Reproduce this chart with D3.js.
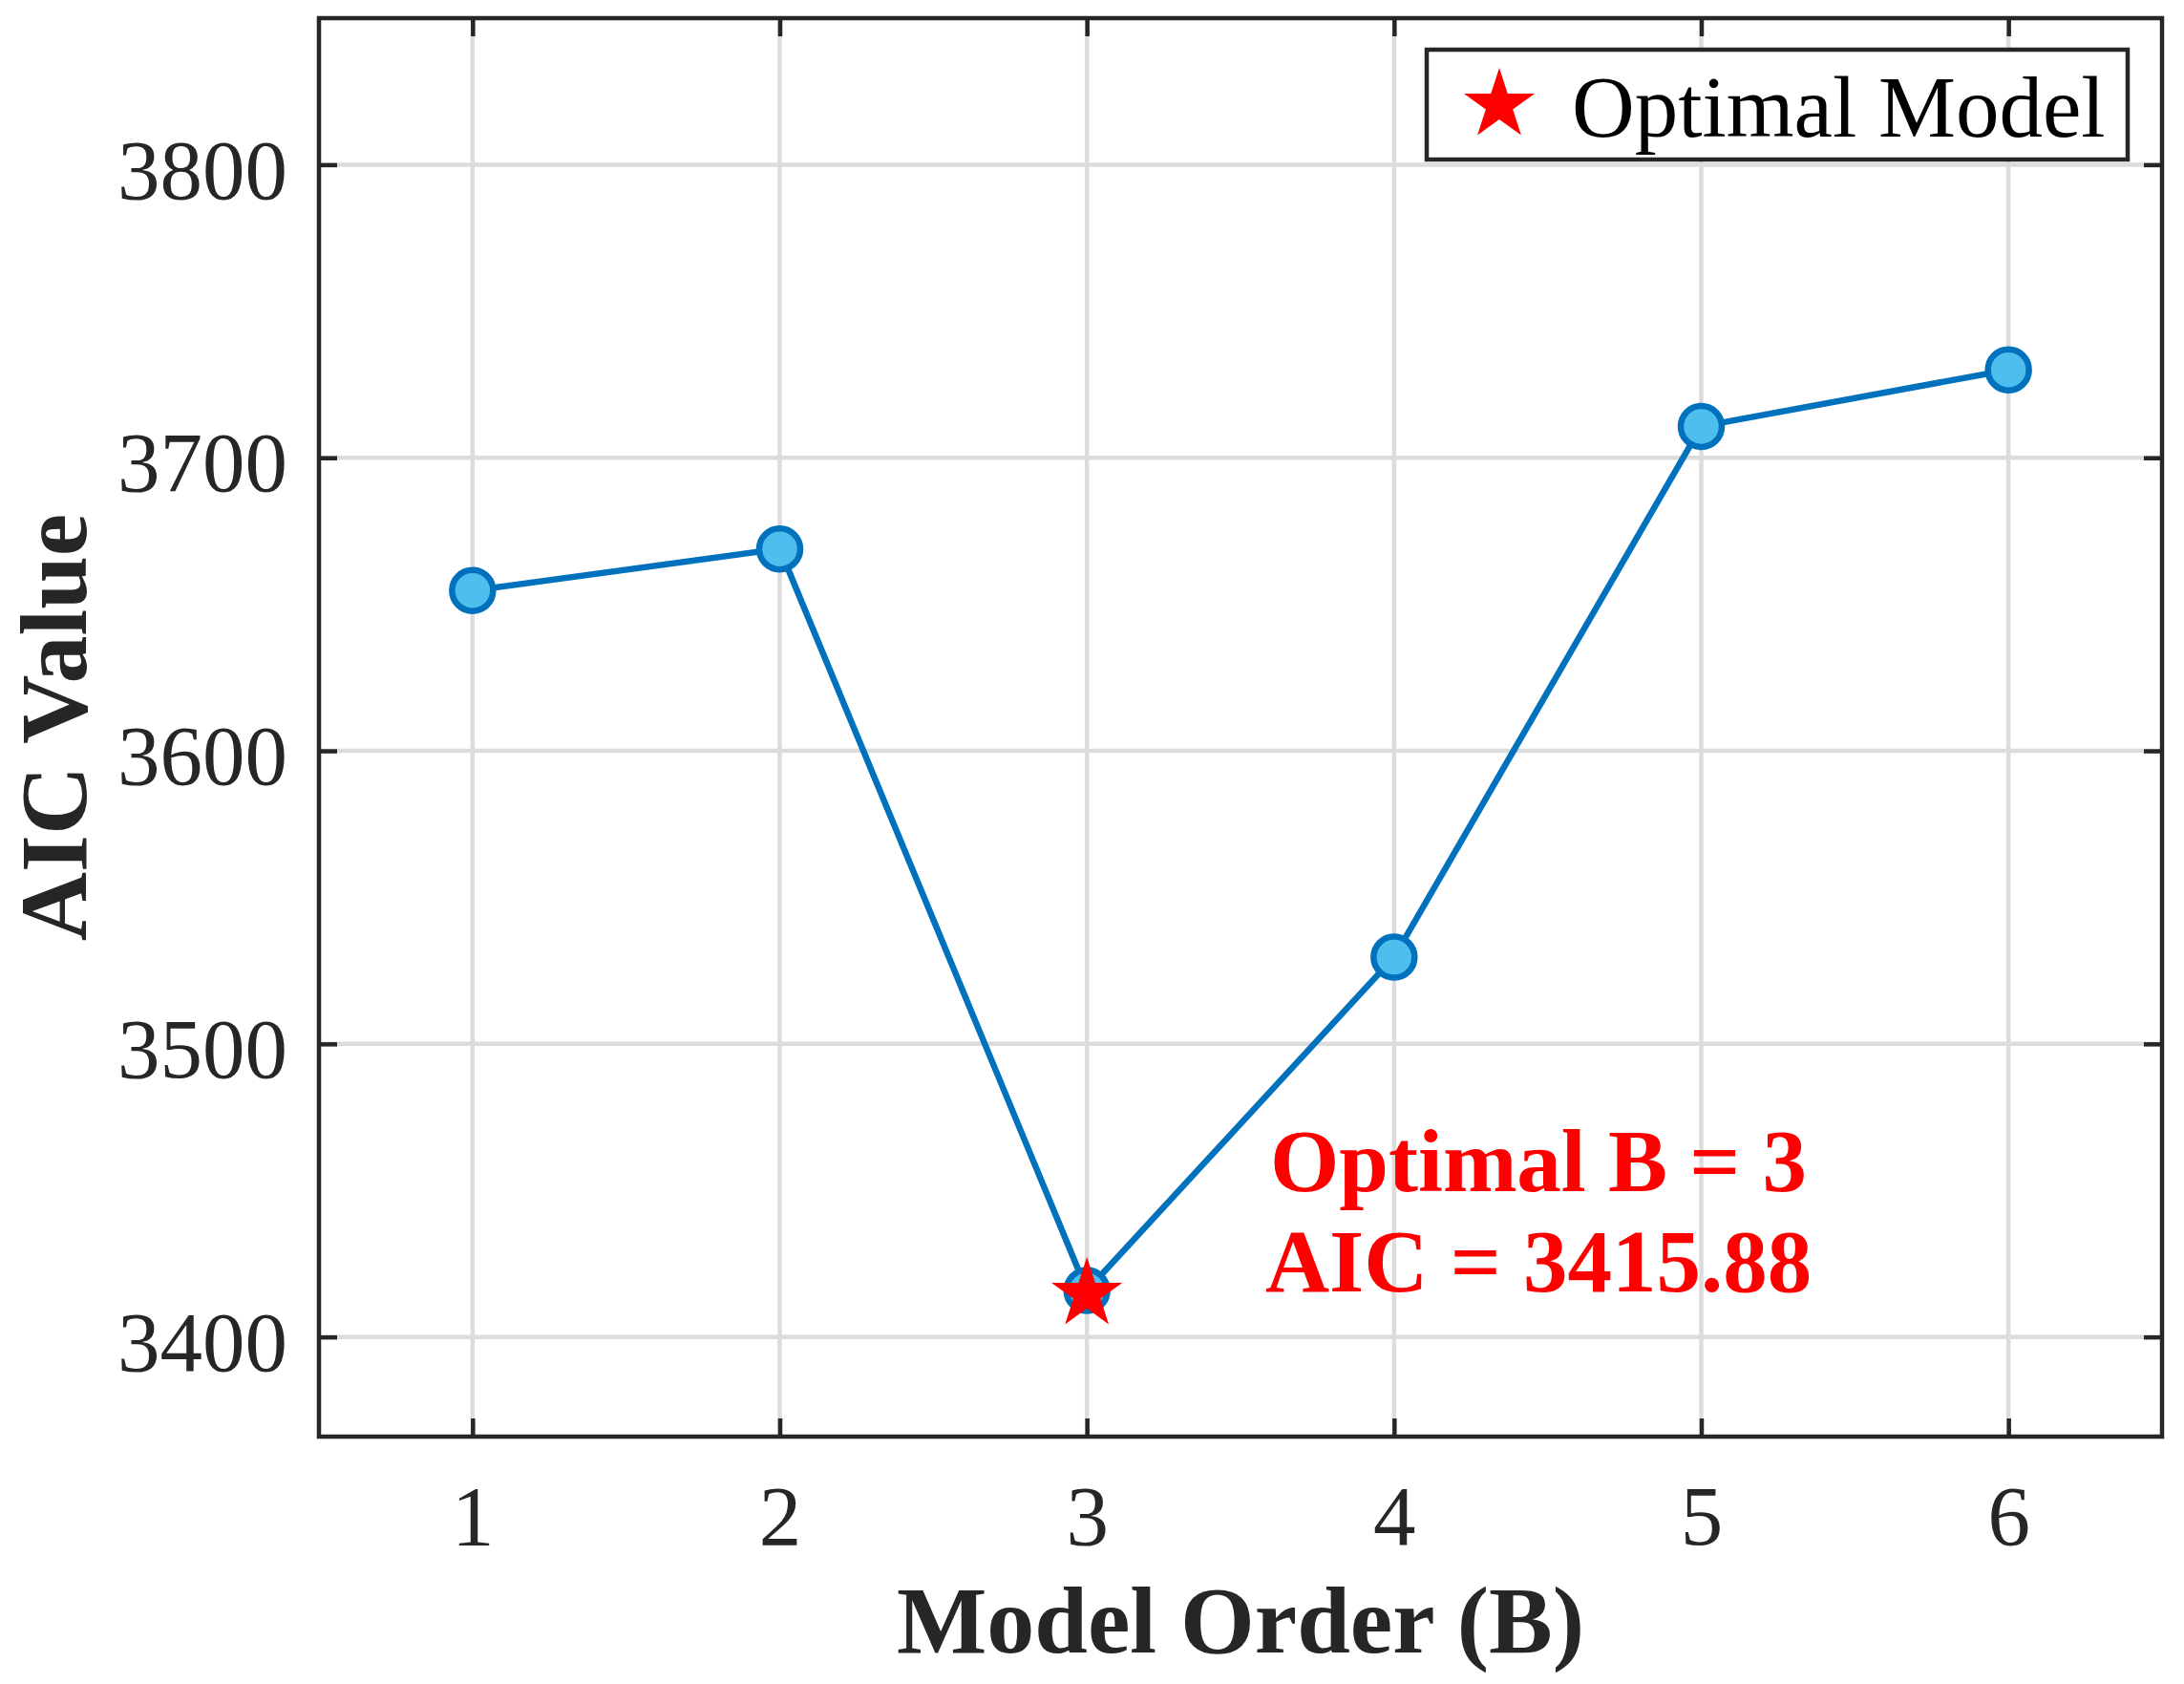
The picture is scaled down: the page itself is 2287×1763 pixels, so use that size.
<!DOCTYPE html>
<html>
<head>
  <meta charset="utf-8">
  <title>AIC vs Model Order</title>
  <style>
    body { margin: 0; background: #fff; }
    text { font-family: 'Liberation Serif', 'Times New Roman', serif; }
    .axis path, .axis line { stroke: #262626; }
    .axis text { fill: #262626; }
  </style>
</head>
<body>
  <div id="plot"></div>
  <script src="https://cdn.jsdelivr.net/npm/d3@7/dist/d3.min.js"></script>
  <script>

    // data
    let orders = [1, 2, 3, 4, 5, 6];
    let aicValues = [3654.7, 3668.9, 3415.88, 3529.6, 3710.7, 3730.0];
    let yTicks = [3400, 3500, 3600, 3700, 3800];
    let bestOrder = 3;
    let bestAic = 3415.88;
    let legendLabel = 'Optimal Model';
    let noteLines = ['Optimal B = 3', 'AIC = 3415.88'];

    function translate(x, y) {
      return 'translate(' + x + ', ' + y + ')';
    }

    let svgWidth = 2287;
    let svgHeight = 1763;
    let margin = {top: 19, right: 23, bottom: 259, left: 334};
    let width = svgWidth - margin.left - margin.right;
    let height = svgHeight - margin.top - margin.bottom;

    let blue = '#0072BD';
    let lightBlue = '#4DBEEE';
    let axisColor = '#262626';
    let tickLen = 19;

    let svg = d3.select('#plot')
      .append('svg')
        .attr('width', svgWidth)
        .attr('height', svgHeight)
      .append('g')
        .attr('transform', translate(margin.left, margin.top));

    let x = d3.scaleLinear().domain([0.5, 6.5]).range([0, width]);
    let y = d3.scaleLinear().domain([3366, 3850]).range([height, 0]);

    // grid
    svg.append('g')
      .selectAll('line')
      .data(orders)
      .enter()
      .append('line')
        .attr('x1', d => x(d)).attr('x2', d => x(d))
        .attr('y1', 0).attr('y2', height)
        .attr('stroke', '#dcdcdc')
        .attr('stroke-width', 4.5);

    svg.append('g')
      .selectAll('line')
      .data(yTicks)
      .enter()
      .append('line')
        .attr('x1', 0).attr('x2', width)
        .attr('y1', d => y(d)).attr('y2', d => y(d))
        .attr('stroke', '#dcdcdc')
        .attr('stroke-width', 4.5);

    // axes, ticks pointing inward on all four sides
    let xAxis = d3.axisBottom(x).tickValues(orders).tickSize(-tickLen).tickPadding(50).tickFormat(d3.format('d'));
    let yAxis = d3.axisLeft(y).tickValues(yTicks).tickSize(-tickLen).tickPadding(33).tickFormat(d3.format('d'));

    let gx = svg.append('g')
      .attr('class', 'x axis')
      .attr('transform', translate(0, height))
      .call(xAxis);
    let gy = svg.append('g')
      .attr('class', 'y axis')
      .call(yAxis);
    let gxTop = svg.append('g')
      .attr('class', 'axis')
      .call(d3.axisTop(x).tickValues(orders).tickSize(-tickLen).tickFormat(''));
    let gyRight = svg.append('g')
      .attr('class', 'axis')
      .attr('transform', translate(width, 0))
      .call(d3.axisRight(y).tickValues(yTicks).tickSize(-tickLen).tickFormat(''));

    [gx, gy, gxTop, gyRight].forEach(function(g) {
      g.select('.domain').attr('stroke-width', 4.5).attr('d', null);
      g.selectAll('.tick line').attr('stroke-width', 4.5);
    });

    gx.selectAll('text').style('font-size', '89px');
    gy.selectAll('text').style('font-size', '89px').attr('dy', '0.39em');

    // box
    svg.append('rect')
      .attr('x', 0).attr('y', 0)
      .attr('width', width).attr('height', height)
      .attr('fill', 'none')
      .attr('stroke', axisColor)
      .attr('stroke-width', 4.5);

    // axis labels
    svg.append('text')
      .attr('x', width / 2)
      .attr('y', 1711)
      .attr('text-anchor', 'middle')
      .style('font-size', '100px')
      .style('font-weight', 'bold')
      .style('fill', axisColor)
      .text('Model Order (B)');

    svg.append('text')
      .attr('transform', translate(-244, height / 2) + ' rotate(-90)')
      .attr('text-anchor', 'middle')
      .style('font-size', '100px')
      .style('font-weight', 'bold')
      .style('fill', axisColor)
      .text('AIC Value');

    // series
    let line = d3.line()
      .x((d, i) => x(orders[i]))
      .y(d => y(d));

    svg.append('path')
      .datum(aicValues)
      .attr('fill', 'none')
      .attr('stroke', blue)
      .attr('stroke-width', 6.5)
      .attr('d', line);

    svg.selectAll('.pt')
      .data(aicValues)
      .enter()
      .append('circle')
        .attr('class', 'pt')
        .attr('cx', (d, i) => x(orders[i]))
        .attr('cy', d => y(d))
        .attr('r', 21.5)
        .attr('fill', lightBlue)
        .attr('stroke', blue)
        .attr('stroke-width', 6.5);

    let star = d3.symbol().type(d3.symbolStar).size(1707);

    svg.append('path')
      .attr('d', star)
      .attr('transform', translate(x(bestOrder), y(bestAic) + 4))
      .attr('fill', '#ff0000');

    // annotation
    svg.append('g')
      .selectAll('text')
      .data(noteLines)
      .enter()
      .append('text')
        .attr('x', x(4.47))
        .attr('y', (d, i) => 1228 + i * 105)
        .attr('text-anchor', 'middle')
        .style('font-size', '93px')
        .style('font-weight', 'bold')
        .style('fill', '#ff0000')
        .text(d => d);

    // legend
    let legend = svg.append('g')
      .attr('transform', translate(1494 - margin.left, 52 - margin.top));

    legend.append('rect')
      .attr('width', 734)
      .attr('height', 115)
      .attr('fill', '#fff')
      .attr('stroke', axisColor)
      .attr('stroke-width', 4.5);

    legend.append('path')
      .attr('d', star)
      .attr('transform', translate(76, 58))
      .attr('fill', '#ff0000');

    legend.append('text')
      .attr('x', 152)
      .attr('y', 91)
      .style('font-size', '91px')
      .style('fill', '#000')
      .text(legendLabel);

  </script>
</body>
</html>
